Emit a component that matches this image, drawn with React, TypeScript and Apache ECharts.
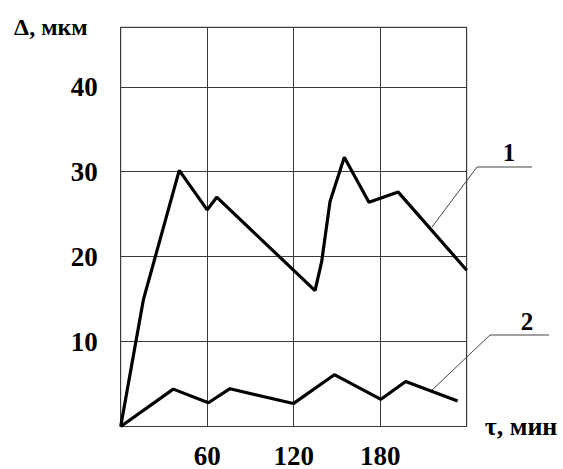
import React, { useEffect, useRef } from "react";
import * as echarts from "echarts";

const curve1X = [0, 15.7, 40.6, 60, 66.6, 134.8, 139.4, 145.2, 155.1, 172.2, 192.5, 240];
const curve1Y = [0, 14.9, 30.15, 25.5, 27.0, 16.0, 19.4, 26.5, 31.7, 26.4, 27.6, 18.4];
const curve2X = [0, 36.5, 60.8, 75.8, 119.7, 148.2, 180.5, 197.7, 233.7];
const curve2Y = [0, 4.4, 2.8, 4.45, 2.7, 6.1, 3.2, 5.3, 3.0];
const xTickLabels = ["60", "120", "180"];
const yTickLabels = ["10", "20", "30", "40"];
const seriesNames = ["1", "2"];

const FONT = "'Liberation Serif', 'Times New Roman', serif";

export default function App() {
  const ref = useRef<HTMLDivElement>(null);
  useEffect(() => {
    if (!ref.current) return;
    const chart = echarts.init(ref.current, undefined, { renderer: "svg" });
    const s1 = curve1X.map((x, i) => [x, curve1Y[i]]);
    const s2 = curve2X.map((x, i) => [x, curve2Y[i]]);
    const gridColor = "#3a3a3a";
    chart.setOption({
      animation: false,
      backgroundColor: "#ffffff",
      grid: {
        left: 120.7,
        right: 96.3,
        top: 27.3,
        bottom: 39,
        show: true,
        borderColor: gridColor,
        borderWidth: 1,
        backgroundColor: "transparent",
      },
      xAxis: {
        type: "value",
        min: 0,
        max: 240,
        interval: 60,
        name: "τ, мин",
        nameLocation: "end",
        nameGap: 18,
        nameTextStyle: {
          fontFamily: FONT,
          fontWeight: "bold",
          fontSize: 26,
          color: "#000",
          align: "left",
          verticalAlign: "middle",
          padding: [0, 0, 12, 0],
        },
        axisLine: { show: true, lineStyle: { color: gridColor, width: 1 } },
        axisTick: { show: false },
        splitLine: { show: true, lineStyle: { color: gridColor, width: 1 } },
        axisLabel: {
          margin: 29,
          verticalAlign: "middle",
          fontFamily: FONT,
          fontWeight: "bold",
          fontSize: 27,
          color: "#000",
          formatter: (v: number) => (xTickLabels.includes(String(v)) ? String(v) : ""),
        },
      },
      yAxis: {
        type: "value",
        min: 0,
        max: 47,
        interval: 10,
        name: "Δ, мкм",
        nameLocation: "end",
        nameGap: 0,
        nameTextStyle: {
          fontFamily: FONT,
          fontWeight: "bold",
          fontSize: 24,
          color: "#000",
          align: "right",
          verticalAlign: "middle",
          padding: [0, 33, 0, 0],
        },
        axisLine: { show: true, lineStyle: { color: gridColor, width: 1 } },
        axisTick: { show: false },
        splitLine: { show: true, lineStyle: { color: gridColor, width: 1 } },
        axisLabel: {
          margin: 23,
          showMaxLabel: false,
          verticalAlign: "middle",
          padding: [16, 0, 0, 0],
          fontFamily: FONT,
          fontWeight: "bold",
          fontSize: 27,
          color: "#000",
          formatter: (v: number) => (yTickLabels.includes(String(v)) ? String(v) : ""),
        },
      },
      series: [
        {
          name: seriesNames[0],
          type: "line",
          data: s1,
          showSymbol: false,
          lineStyle: { color: "#000", width: 3.2 },
          z: 5,
        },
        {
          name: seriesNames[1],
          type: "line",
          data: s2,
          showSymbol: false,
          lineStyle: { color: "#000", width: 3.2 },
          z: 5,
        },
      ],
      graphic: [
        { type: "line", shape: { x1: 477, y1: 167, x2: 432, y2: 227 }, style: { stroke: "#444", lineWidth: 1 } },
        { type: "line", shape: { x1: 477, y1: 167, x2: 532, y2: 167 }, style: { stroke: "#444", lineWidth: 1 } },
        {
          type: "text",
          x: 509,
          y: 165,
          style: { text: seriesNames[0], fill: "#000", font: `bold 25px ${FONT}`, align: "center", verticalAlign: "bottom" },
        },
        { type: "line", shape: { x1: 490, y1: 335, x2: 430, y2: 392 }, style: { stroke: "#444", lineWidth: 1 } },
        { type: "line", shape: { x1: 490, y1: 335, x2: 549, y2: 335 }, style: { stroke: "#444", lineWidth: 1 } },
        {
          type: "text",
          x: 527,
          y: 334,
          style: { text: seriesNames[1], fill: "#000", font: `bold 25px ${FONT}`, align: "center", verticalAlign: "bottom" },
        },
      ],
    });
    return () => chart.dispose();
  }, []);
  return <div ref={ref} style={{ width: 563, height: 469, position: "absolute", left: 0, top: 0 }} />;
}
